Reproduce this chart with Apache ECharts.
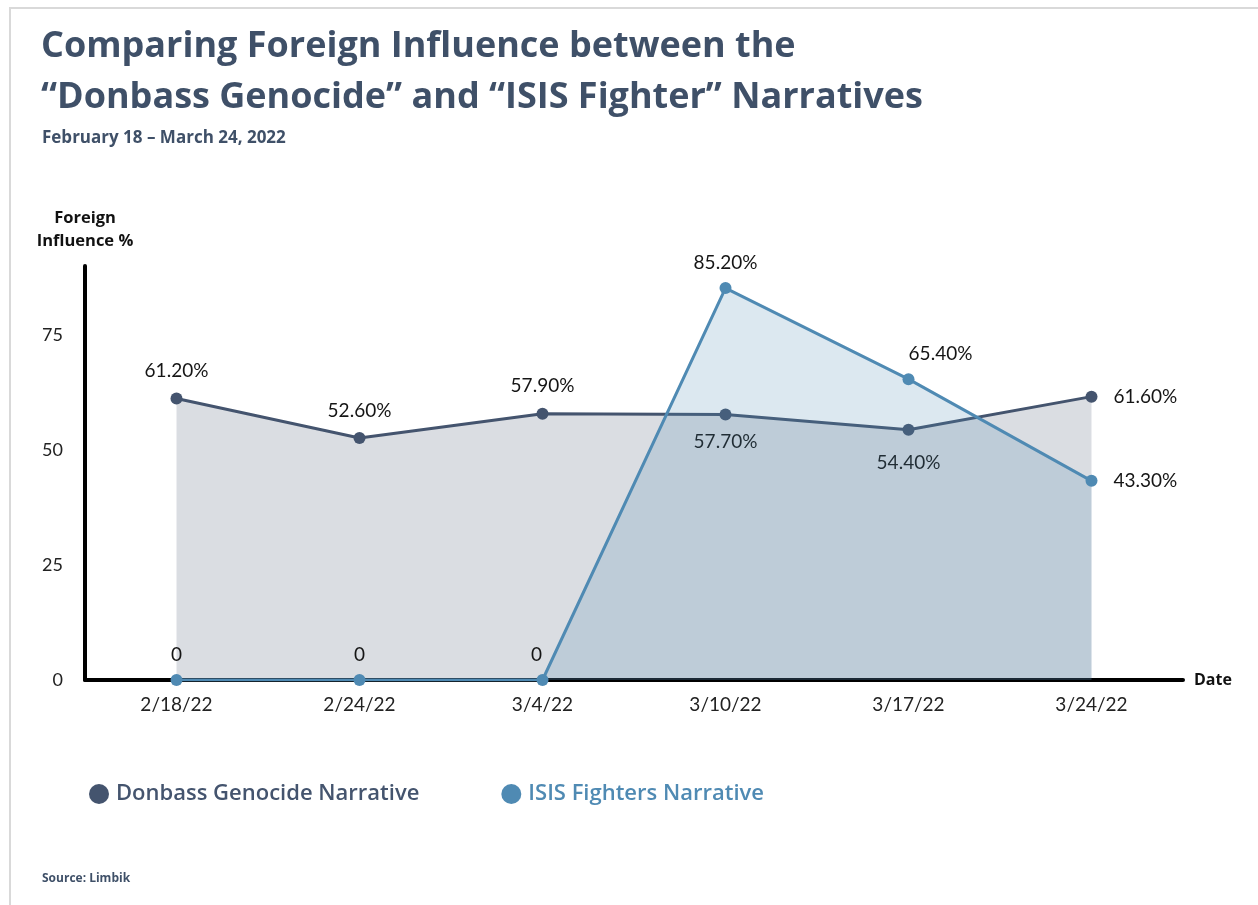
<!DOCTYPE html>
<html>
<head>
<meta charset="utf-8">
<script src="https://cdn.jsdelivr.net/npm/echarts@6/dist/echarts.min.js"></script>
<style>
html,body{margin:0;padding:0;background:#fff;}
#c{width:1258px;height:905px;}
</style>
</head>
<body>
<div id="c"></div>
<script>
const categories = ['2/18/22','2/24/22','3/4/22','3/10/22','3/17/22','3/24/22'];
const donbassValues = [61.2, 52.6, 57.9, 57.7, 54.4, 61.6];
const isisValues = [0, 0, 0, 85.2, 65.4, 43.3];
const donbassLabelPos = ['top','top','top','bottom','bottom','right'];
const isisLabelPos = ['top','top','top','top','top','right'];
const yTicks = [0, 25, 50, 75];

const dark = '#44546e';
const blue = '#4f8ab3';
const titleColor = '#3f5068';

function fmt(v){ return v === 0 ? '0' : v.toFixed(2) + '%'; }

const chart = echarts.init(document.getElementById('c'));
const labelStyle = {fontFamily:'Lato', fontSize:19, color:'#151515'};

chart.setOption({
  backgroundColor:'#fff',
  animation:false,
  title:[
    {text:'Comparing Foreign Influence between the\n“Donbass Genocide” and “ISIS Fighter” Narratives',
     left:36, top:16,
     textStyle:{fontFamily:'Open Sans', fontWeight:700, fontSize:36, lineHeight:51, color:titleColor}},
    {text:'February 18 – March 24, 2022', left:37, top:125,
     textStyle:{fontFamily:'Open Sans', fontWeight:700, fontSize:17, color:titleColor}},
    {text:'Source: Limbik', left:37, top:868,
     textStyle:{fontFamily:'Open Sans', fontWeight:700, fontSize:12, color:titleColor}}
  ],
  graphic:[
    {type:'polyline', shape:{points:[[10,905],[10,8],[1258,8]]}, style:{stroke:'#d9d9d9', lineWidth:2, fill:null}, silent:true}
  ],
  legend:{
    left:84, top:778, itemGap:82, icon:'circle', itemWidth:20, itemHeight:20,
    textStyle:{fontFamily:'Open Sans', fontWeight:600, fontSize:22, padding:[0,0,0,2]},
    data:[
      {name:'Donbass Genocide Narrative', textStyle:{color:dark}},
      {name:'ISIS Fighters Narrative', textStyle:{color:blue}}
    ]
  },
  grid:{left:85, right:75, top:266, bottom:225, containLabel:false},
  xAxis:{
    type:'category', data:categories, boundaryGap:true,
    name:'Date', nameLocation:'end', nameGap:11,
    nameTextStyle:{fontFamily:'Open Sans', fontWeight:700, fontSize:16, color:'#111'},
    axisLine:{lineStyle:{color:'#000', width:4}},
    axisTick:{show:false},
    axisLabel:{fontFamily:'Lato', fontSize:19, color:'#222', margin:15}
  },
  yAxis:{
    type:'value', min:0, max:90, interval:25,
    name:'Foreign\nInfluence %', nameLocation:'end', nameGap:13,
    nameTextStyle:{fontFamily:'Open Sans', fontWeight:700, fontSize:16.5, color:'#111', lineHeight:23, align:'center'},
    axisLine:{show:true, lineStyle:{color:'#000', width:4}},
    axisTick:{show:false},
    splitLine:{show:false},
    axisLabel:{fontFamily:'Lato', fontSize:18, color:'#222', margin:22,
      formatter:function(v){ return yTicks.indexOf(v) >= 0 ? String(v) : ''; }}
  },
  series:[
    {
      name:'Donbass Genocide Narrative', type:'line',
      data:donbassValues.map((v,i)=>({value:v, label:{position:donbassLabelPos[i],
        distance: donbassLabelPos[i]==='right'?16:(i===4?18:12)}})),
      symbol:'circle', symbolSize:12,
      lineStyle:{color:dark, width:3}, itemStyle:{color:dark},
      areaStyle:{color:dark, opacity:0.2},
      label:{show:true, formatter:p=>fmt(p.value), ...labelStyle},
      z:3
    },
    {
      name:'ISIS Fighters Narrative', type:'line',
      data:isisValues.map((v,i)=>({value:v, label:{position:isisLabelPos[i],
        offset: i===4 ? [32,0] : (i===2 ? [-6,0] : [0,0]),
        distance: isisLabelPos[i]==='right'?16:10}})),
      symbol:'circle', symbolSize:12,
      lineStyle:{color:blue, width:3}, itemStyle:{color:blue},
      areaStyle:{color:blue, opacity:0.2},
      label:{show:true, formatter:p=>fmt(p.value), ...labelStyle},
      z:4
    }
  ]
});
</script>
</body>
</html>
